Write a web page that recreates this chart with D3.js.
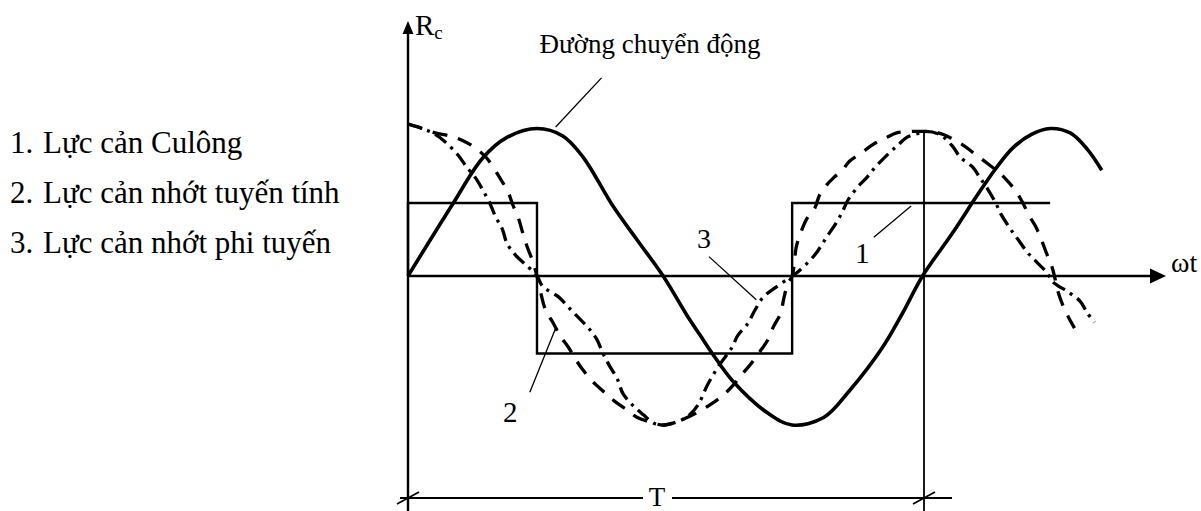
<!DOCTYPE html>
<html>
<head>
<meta charset="utf-8">
<script src="https://cdn.jsdelivr.net/npm/d3@7"></script>
<style>
  html, body { margin: 0; padding: 0; background: #fff; }
  svg { display: block; }
  text { font-family: "Liberation Serif", "Times New Roman", serif; fill: #000; }
</style>
</head>
<body>
<svg id="chart" width="1201" height="511"></svg>
<script>
// Phase ωt in degrees, force/displacement in units of the amplitude.

// Motion curve (Đường chuyển động)
const motionPhase = [0, 31, 52, 69, 90, 108, 122, 143, 160, 178, 195, 204, 213, 227, 251, 268, 290, 308, 331, 345, 359, 380, 397, 410, 422, 435, 448, 462, 474, 484];
const motionValue = [0, 0.48, 0.79, 0.93, 0.99, 0.94, 0.80, 0.47, 0.24, 0, -0.27, -0.40, -0.53, -0.71, -0.92, -1.0, -0.95, -0.77, -0.48, -0.25, 0, 0.29, 0.54, 0.72, 0.86, 0.95, 0.99, 0.96, 0.85, 0.71];

// 1. Coulomb friction (square wave)
const coulombPhase = [0, 90, 268, 448];
const coulombValue = [0.49, -0.52, 0.49, 0.49];

// 2. Linear viscous damping (dashed)
const linearPhase = [0, 10, 19, 29, 38, 47, 55, 64, 70, 73, 77, 80, 83, 87, 90, 96, 101, 106, 112, 117, 122, 129, 137, 144, 153, 160, 169, 179, 197, 213, 221, 228, 234, 240, 246, 251, 255, 260, 262, 265, 268, 271, 274, 278, 284, 287, 292, 297, 303, 308, 317, 324, 334, 341, 352, 360, 370, 378, 387, 394, 405, 413, 419, 424, 429, 433, 438, 442, 446, 449, 451, 453, 457, 461, 465];
const linearValue = [1.02, 0.99, 0.96, 0.94, 0.91, 0.86, 0.79, 0.66, 0.56, 0.48, 0.39, 0.29, 0.2, 0.1, 0, -0.23, -0.31, -0.40, -0.48, -0.56, -0.63, -0.71, -0.78, -0.84, -0.90, -0.95, -0.98, -1.0, -0.94, -0.85, -0.79, -0.72, -0.65, -0.58, -0.50, -0.43, -0.34, -0.25, -0.16, -0.05, 0, 0.2, 0.29, 0.38, 0.46, 0.54, 0.61, 0.66, 0.71, 0.77, 0.83, 0.88, 0.93, 0.96, 0.97, 0.97, 0.96, 0.93, 0.88, 0.83, 0.75, 0.69, 0.63, 0.57, 0.49, 0.41, 0.33, 0.24, 0.14, 0.07, 0, -0.09, -0.20, -0.28, -0.35];

// 3. Nonlinear viscous damping (dash-dot)
const nonlinearPhase = [0, 10, 19, 26, 35, 41, 47, 52, 57, 61, 66, 69, 75, 84, 90, 94, 105, 112, 119, 126, 132, 136, 141, 146, 150, 157, 164, 172, 179, 194, 202, 209, 217, 226, 230, 237, 242, 248, 256, 268, 271, 281, 286, 292, 299, 303, 307, 314, 320, 326, 334, 342, 348, 357, 360, 371, 380, 385, 394, 399, 404, 410, 414, 420, 426, 432, 439, 446, 450, 461, 469, 474, 479];
const nonlinearValue = [1.02, 0.99, 0.95, 0.90, 0.81, 0.73, 0.66, 0.58, 0.49, 0.40, 0.31, 0.22, 0.14, 0.06, 0, -0.07, -0.14, -0.21, -0.28, -0.35, -0.43, -0.52, -0.61, -0.69, -0.79, -0.87, -0.93, -0.99, -1.0, -0.95, -0.87, -0.73, -0.60, -0.48, -0.40, -0.32, -0.23, -0.14, -0.08, 0, 0.02, 0.11, 0.17, 0.26, 0.36, 0.43, 0.51, 0.60, 0.66, 0.73, 0.81, 0.88, 0.93, 0.96, 0.97, 0.95, 0.87, 0.80, 0.73, 0.66, 0.59, 0.49, 0.41, 0.32, 0.24, 0.16, 0.09, 0.02, -0.04, -0.11, -0.17, -0.25, -0.31];

// Legend entries: number and description
const legendNumbers = ["1.", "2.", "3."];
const legendItems = ["Lực cản Culông", "Lực cản nhớt tuyến tính", "Lực cản nhớt phi tuyến"];

// Annotation labels: text, leader line ends in [phase, value]
const callouts = [
  { text: "Đường chuyển động", from: [135, 1.33], to: [103, 1.0] },
  { text: "1", from: [325, 0.26], to: [351, 0.47] },
  { text: "3", from: [210, 0.13], to: [243, -0.16] },
  { text: "2", from: [85, -0.78], to: [103, -0.35] }
];

const periodLabel = "T";

const svg = d3.select("#chart");
const x = d3.scaleLinear().domain([0, 360]).range([408, 924]);
const y = d3.scaleLinear().domain([-1, 1]).range([425, 127]);

const zip = (a, b) => a.map((v, i) => [v, b[i]]);

// Axes
const ax = x(0), ay = y(0);
svg.append("line").attr("x1", ax).attr("x2", ax).attr("y1", 33).attr("y2", 511)
  .attr("stroke", "#000").attr("stroke-width", 2.4);
svg.append("path").attr("d", `M${ax},21 L${ax - 5.5},34 L${ax + 5.5},34 Z`).attr("fill", "#000");
svg.append("line").attr("x1", ax).attr("x2", 1151).attr("y1", ay).attr("y2", ay)
  .attr("stroke", "#000").attr("stroke-width", 2.4);
svg.append("path").attr("d", `M1166,${ay} L1150,${ay - 7.5} L1150,${ay + 7.5} Z`).attr("fill", "#000");

// Axis titles
const rc = svg.append("text").attr("x", 415).attr("y", 35).style("font-size", "29px");
rc.append("tspan").text("R");
rc.append("tspan").attr("dy", 4).style("font-size", "19px").text("c");
svg.append("text").attr("x", 1171).attr("y", 272).style("font-size", "28px").text("ωt");

// Period marker
const xT = x(360);
svg.append("line").attr("x1", xT).attr("x2", xT).attr("y1", y(0.97)).attr("y2", 511)
  .attr("stroke", "#000").attr("stroke-width", 1.8);
const dimY = 498;
svg.append("line").attr("x1", ax - 8).attr("x2", 643).attr("y1", dimY).attr("y2", dimY)
  .attr("stroke", "#000").attr("stroke-width", 1.8);
svg.append("line").attr("x1", 672).attr("x2", xT + 28).attr("y1", dimY).attr("y2", dimY)
  .attr("stroke", "#000").attr("stroke-width", 1.8);
[ax, xT].forEach(px => {
  svg.append("line").attr("x1", px - 11).attr("x2", px + 11).attr("y1", dimY + 6).attr("y2", dimY - 6)
    .attr("stroke", "#000").attr("stroke-width", 1.8);
});
svg.append("text").attr("x", 657).attr("y", 506).attr("text-anchor", "middle")
  .style("font-size", "27px").text(periodLabel);

const line = d3.line().x(d => x(d[0])).y(d => y(d[1])).curve(d3.curveCatmullRom.alpha(0.5));

// 1. Coulomb square wave
svg.append("path")
  .attr("d", d3.line().x(d => x(d[0])).y(d => y(d[1])).curve(d3.curveStepAfter)(
    [[0, 0]].concat(zip(coulombPhase, coulombValue))))
  .attr("fill", "none").attr("stroke", "#000").attr("stroke-width", 2.4);

// 2. Linear viscous (dashed)
svg.append("path").attr("d", line(zip(linearPhase, linearValue)))
  .attr("fill", "none").attr("stroke", "#000").attr("stroke-width", 3.3)
  .attr("stroke-dasharray", "15,11");

// 3. Nonlinear viscous (dash-dot)
svg.append("path").attr("d", line(zip(nonlinearPhase, nonlinearValue)))
  .attr("fill", "none").attr("stroke", "#000").attr("stroke-width", 3.3)
  .attr("stroke-dasharray", "14,6,3,6");

// Motion curve
svg.append("path").attr("d", line(zip(motionPhase, motionValue)))
  .attr("fill", "none").attr("stroke", "#000").attr("stroke-width", 3.6);

// Callouts
const labelPos = {
  "Đường chuyển động": { x: 650, y: 53, anchor: "middle", size: 27 },
  "1": { x: 855, y: 263, anchor: "start", size: 29 },
  "3": { x: 697, y: 248, anchor: "start", size: 28 },
  "2": { x: 503, y: 422, anchor: "start", size: 29 }
};
callouts.forEach(c => {
  svg.append("line")
    .attr("x1", x(c.from[0])).attr("y1", y(c.from[1]))
    .attr("x2", x(c.to[0])).attr("y2", y(c.to[1]))
    .attr("stroke", "#000").attr("stroke-width", 1.3);
  const p = labelPos[c.text];
  svg.append("text").attr("x", p.x).attr("y", p.y).attr("text-anchor", p.anchor)
    .style("font-size", p.size + "px").text(c.text);
});

// Legend (number, then text at a tab stop)
const legend = svg.append("g").style("font-size", "31px");
legend.selectAll("text.num").data(legendNumbers).join("text")
  .attr("class", "num").attr("x", 10).attr("y", (d, i) => 153 + i * 50).text(d => d);
legend.selectAll("text.item").data(legendItems).join("text")
  .attr("class", "item").attr("x", 43).attr("y", (d, i) => 153 + i * 50).text(d => d);
</script>
</body>
</html>
